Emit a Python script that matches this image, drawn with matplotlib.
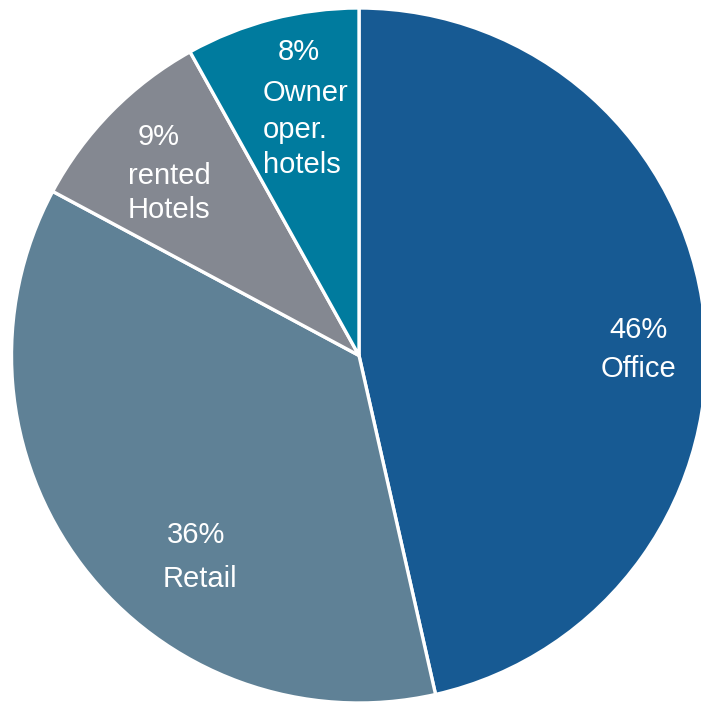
import matplotlib
matplotlib.use("Agg")
import matplotlib.pyplot as plt

# Portfolio split by asset type
categories = ["Office", "Retail", "rented\nHotels", "Owner\noper.\nhotels"]
shares = [46, 36, 9, 8]
colors = ["#175A93", "#5F8196", "#848891", "#007B9E"]

W, H = 701, 705
CX, CY, R = 359, 355.5, 347.5  # pie centre and radius in pixels

fig = plt.figure(figsize=(W / 100, H / 100), dpi=100)
ax = fig.add_axes([0, 0, 1, 1])

ax.pie(shares, colors=colors, startangle=90, counterclock=False, radius=1.0,
       wedgeprops=dict(edgecolor="white", linewidth=2.4))

ax.set_aspect("auto")
ax.set_xlim(-CX / R, (W - CX) / R)
ax.set_ylim((CY - H) / R, CY / R)
ax.axis("off")


def px(x, y):
    return (x - CX) / R, (CY - y) / R


font = dict(color="white", fontsize=21, family=["Liberation Sans", "DejaVu Sans"])

# (text, x, y, horizontal alignment) for each label line
lines = [
    (f"{shares[0]}%", 638, 330, "center"),
    ("Office", 638, 369, "center"),
    (f"{shares[1]}%", 196, 535, "center"),
    ("Retail", 200, 579, "center"),
    (f"{shares[2]}%", 159, 137, "center"),
    ("rented", 128, 176, "left"),
    ("Hotels", 128, 210, "left"),
    (f"{shares[3]}%", 299, 52, "center"),
    ("Owner", 263, 93, "left"),
    ("oper.", 263, 130, "left"),
    ("hotels", 263, 165, "left"),
]
for txt, x, y, ha in lines:
    ax.text(*px(x, y), txt, ha=ha, va="center", **font)

fig.savefig("out.png", dpi=100, facecolor="white")
